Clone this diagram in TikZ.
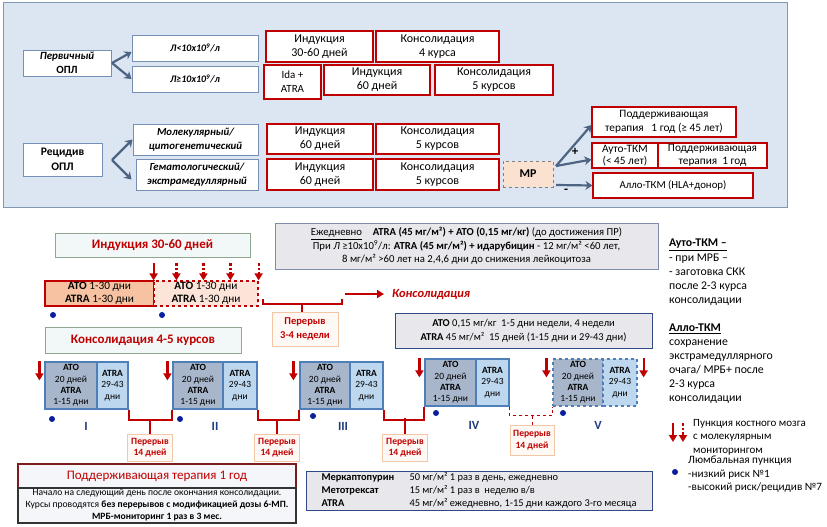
\documentclass[tikz,border=0pt]{standalone}
\usepackage{fontspec}
\setmainfont{Carlito}
\usetikzlibrary{arrows.meta}

\definecolor{panelbg}{HTML}{DCE6F2}
\definecolor{panelline}{HTML}{8497B0}
\definecolor{boxblue}{HTML}{7690B5}
\definecolor{boxred}{HTML}{C00000}
\definecolor{arrowgray}{HTML}{4D6483}
\definecolor{peach}{HTML}{F6C2A2}
\definecolor{peachlight}{HTML}{FCE5D8}
\definecolor{mrfill}{HTML}{FBE1CF}
\definecolor{hdrfill}{HTML}{F2F7F8}
\definecolor{hdrline}{HTML}{8FA68F}
\definecolor{grayfill}{HTML}{E8E8EC}
\definecolor{grayline}{HTML}{7E8CAA}
\definecolor{darkline}{HTML}{2E4A86}
\definecolor{atofill}{HTML}{A8B6CB}
\definecolor{atrafill}{HTML}{BDD7EE}
\definecolor{blkline}{HTML}{4F7FB8}
\definecolor{dotblue}{HTML}{0A1F9E}
\definecolor{romanblue}{HTML}{1F3C7C}
\definecolor{pausefill}{HTML}{FFF9F5}
\definecolor{pauseline}{HTML}{F3C6A5}
\definecolor{maintline}{HTML}{7B1B1B}
\definecolor{maintfill}{HTML}{F4F6F9}

\newcommand{\fsz}[2]{\fontsize{#1}{#2}\selectfont}

\begin{document}
\begin{tikzpicture}[x=1pt, y=-1pt,
  box/.style={inner sep=0pt, align=center},
  bluebox/.style={box, draw=boxblue, fill=white, line width=0.9pt},
  redbox/.style={box, draw=boxred, fill=white, line width=1.1pt, font=\fsz{12}{14}},
  rightbox/.style={redbox, font=\fsz{11.3}{13.5}},
  toparrow/.style={draw=arrowgray, line width=2.2pt, -{Stealth[length=7pt,width=9pt]}},
  hdrbox/.style={box, draw=hdrline, fill=hdrfill, line width=1pt, text=boxred, font=\bfseries\fsz{13}{15}},
  graybox/.style={box, draw=grayline, fill=grayfill, line width=1pt},
  darkbox/.style={graybox, draw=darkline},
  redarrow/.style={draw=boxred, line width=2.2pt, -{Triangle[length=7pt,width=8pt]}},
  punctarrow/.style={redarrow, dash pattern=on 2.5pt off 2pt},
  bracket/.style={draw=boxred, line width=2pt},
  lpdot/.style={circle, fill=dotblue, inner sep=0pt, minimum size=6pt},
  pausebox/.style={box, draw=pauseline, fill=pausefill, line width=1pt, text=boxred, font=\bfseries\fsz{9.6}{11.5}},
  atoblk/.style={box, draw=blkline, fill=atofill, line width=1.2pt, font=\fsz{9.5}{11.3}, minimum height=47pt},
  atrablk/.style={atoblk, fill=atrafill},
  roman/.style={text=romanblue, font=\bfseries\fsz{12.5}{14}},
  note/.style={inner sep=0pt, align=left, anchor=north west}]
\useasboundingbox (0,0) rectangle (827,527);
\draw[draw=panelline, fill=panelbg, line width=1pt] (3,3) rectangle (787,207);

\node[bluebox, minimum width=88pt, minimum height=26pt, font=\fsz{11}{14}] (prim) at (67,63) {\textbf{\textit{Первичный}}\\\textbf{ОПЛ}};
\node[bluebox, minimum width=126pt, minimum height=26pt, font=\fsz{10}{12}] (lowL) at (195,48) {\textbf{\textit{Л<10x10\textsuperscript{9}/л}}};
\node[bluebox, minimum width=126pt, minimum height=26pt, font=\fsz{10}{12}] (highL) at (195,79) {\textbf{\textit{Л≥10x10\textsuperscript{9}/л}}};
\node[redbox, minimum width=107pt, minimum height=31pt] (ind1) at (319.5,46.5) {Индукция\\30-60 дней};
\node[redbox, minimum width=123pt, minimum height=31pt] (cons1) at (437.5,46.5) {Консолидация\\4 курса};
\node[redbox, minimum width=57pt, minimum height=34pt, font=\fsz{11}{14}] (ida) at (292.5,82) {Ida +\\ATRA};
\node[redbox, minimum width=106pt, minimum height=30pt] (ind2) at (377,80) {Индукция\\60 дней};
\node[redbox, minimum width=118pt, minimum height=30pt] (cons2) at (494,80) {Консолидация\\5 курсов};
\coordinate (primsplit) at (112,63);
\draw[toparrow] (primsplit) -- ([yshift=-4pt]lowL.west);
\draw[toparrow] (primsplit) -- (highL.west);

\node[bluebox, minimum width=79pt, minimum height=33pt, font=\bfseries\fsz{11.5}{15}] (rel) at (62.5,159.5) {Рецидив\\ОПЛ};
\node[bluebox, minimum width=125pt, minimum height=31pt, font=\bfseries\itshape\fsz{10.8}{13.5}] (mol) at (195.5,139.5) {Молекулярный/\\цитогенетический};
\node[bluebox, minimum width=122pt, minimum height=31pt, font=\bfseries\itshape\fsz{10.8}{13.5}] (hem) at (197,174.5) {Гематологический/\\экстрамедуллярный};
\node[redbox, minimum width=106pt, minimum height=30pt] (ind3) at (320,139) {Индукция\\60 дней};
\node[redbox, minimum width=123pt, minimum height=30pt] (cons3) at (437.5,139) {Консолидация\\5 курсов};
\node[redbox, minimum width=106pt, minimum height=31pt] (ind4) at (320,174.5) {Индукция\\60 дней};
\node[redbox, minimum width=123pt, minimum height=31pt] (cons4) at (437.5,174.5) {Консолидация\\5 курсов};
\node[box, draw=gray, dashed, fill=mrfill, line width=1pt, minimum width=50pt, minimum height=26pt, font=\bfseries\fsz{12}{14}] (mr) at (528,174) {МР};
\coordinate (relsplit) at (112,160);
\draw[toparrow] (relsplit) -- (mol.west);
\draw[toparrow] (relsplit) -- ([yshift=-5pt,xshift=-4pt]hem.west);

\node[rightbox, minimum width=144pt, minimum height=30pt] (maint1) at (664,122) {Поддерживающая\\терапия~~ 1 год (≥ 45 лет)};
\node[rightbox, minimum width=66pt, minimum height=25pt, font=\fsz{11.3}{12.5}] (auto) at (625,155.5) {Ауто-ТКМ\\(< 45 лет)};
\node[rightbox, minimum width=109pt, minimum height=25pt, font=\fsz{11.3}{12.5}] (maint2) at (712.5,155.5) {Поддерживающая\\терапия~ 1 год};
\node[rightbox, minimum width=160pt, minimum height=25pt, font=\fsz{10.8}{12.5}] (allo) at (673,185.5) {Алло-ТКМ (HLA+донор)};
\coordinate (mrplus) at (556,166);
\coordinate (mrminus) at (556,185);
\draw[toparrow] (mrplus) -- ([yshift=-3pt]maint1.west);
\draw[toparrow] (mrplus) -- ([yshift=-4pt]auto.west);
\draw[toparrow] (mrminus) -- (allo.west);
\node[font=\bfseries\fsz{13}{14}] (plus) at (575,152) {+};
\node[font=\bfseries\fsz{13}{14}] (minus) at (566,191) {-};

\node[hdrbox, minimum width=195pt, minimum height=24pt] (indhdr) at (152.5,245) {Индукция 30-60 дней};
\node[box, draw=boxred, fill=peach, line width=1.2pt, minimum width=109pt, minimum height=25pt, font=\fsz{11.3}{13}] (atoA) at (99.5,293.5) {\textbf{ATO} 1-30 дни\\\textbf{ATRA} 1-30 дни};
\node[box, draw=boxred, dashed, fill=peachlight, line width=1.2pt, minimum width=104pt, minimum height=25pt, font=\fsz{11.3}{13}] (atoB) at (206,293.5) {\textbf{ATO} 1-30 дни\\\textbf{ATRA} 1-30 дни};
\draw[redarrow] ([xshift=-1pt,yshift=17pt]atoA.north east) -- ([xshift=-1pt]atoA.north east);
\draw[punctarrow] ([xshift=23pt,yshift=17pt]atoB.north west) -- ([xshift=23pt]atoB.north west);
\draw[punctarrow] ([xshift=50pt,yshift=17pt]atoB.north west) -- ([xshift=50pt]atoB.north west);
\draw[punctarrow] ([xshift=77pt,yshift=17pt]atoB.north west) -- ([xshift=77pt]atoB.north west);
\draw[punctarrow] ([yshift=17pt]atoB.north east) -- (atoB.north east);
\node[lpdot] (lp1) at (53,315) {};
\node[lpdot] (lp2) at (162,315) {};
\node[pausebox, minimum width=66pt, minimum height=34pt, font=\bfseries\fsz{10.5}{14}] (brk0) at (305,329) {Перерыв\\3-4 недели};
\coordinate (b0) at (302,304);
\draw[bracket] (263,299) -- (263,304) -- (342,304) -- (342,299);
\draw[bracket] (b0) -- (b0 |- brk0.north);
\node[anchor=west, inner sep=0pt, text=boxred, font=\bfseries\itshape\fsz{12.5}{14}] (conslbl) at (392,294) {Консолидация};
\coordinate (ca) at (345,294);
\draw[redarrow, line width=1.8pt] (ca) -- ([xshift=-8pt]conslbl.west);

\node[graybox, minimum width=383pt, minimum height=46pt, font=\fsz{10.7}{13.5}] (daily) at (466.5,246) {\underline{Ежедневно}\quad \textbf{ATRA (45 мг/м²) + ATO (0,15 мг/кг)} (\underline{до достижения ПР})\\При \textit{Л} ≥10x10\textsuperscript{9}/л: \textbf{ATRA (45 мг/м²) + идарубицин} - 12 мг/м² <60 лет,\\8 мг/м² >60 лет на 2,4,6 дни до снижения лейкоцитоза};

\node[hdrbox, minimum width=196pt, minimum height=26pt] (conshdr) at (143,340) {Консолидация 4-5 курсов};
\node[darkbox, minimum width=257pt, minimum height=35pt, font=\fsz{10.5}{14}] (conscheme) at (523.5,330.5) {\textbf{ATO} 0,15 мг/кг~ 1-5 дни недели, 4 недели\\\textbf{ATRA} 45 мг/м²~ 15 дней (1-15 дни и 29-43 дни)};

\node[atoblk, minimum width=52pt] (atoI) at (71,385.5) {\textbf{ATO}\\20 дней\\\textbf{ATRA}\\1-15 дни};
\node[atrablk, minimum width=31pt] (atraI) at (112.5,385.5) {\textbf{ATRA}\\29-43\\дни};
\node[atoblk, minimum width=50pt] (atoII) at (198,385.5) {\textbf{ATO}\\20 дней\\\textbf{ATRA}\\1-15 дни};
\node[atrablk, minimum width=34pt] (atraII) at (240,385.5) {\textbf{ATRA}\\29-43\\дни};
\node[atoblk, minimum width=50pt] (atoIII) at (325,385.5) {\textbf{ATO}\\20 дней\\\textbf{ATRA}\\1-15 дни};
\node[atrablk, minimum width=33pt] (atraIII) at (366.5,385.5) {\textbf{ATRA}\\29-43\\дни};
\node[atoblk, minimum width=51pt] (atoIV) at (450.5,382.5) {\textbf{ATO}\\20 дней\\\textbf{ATRA}\\1-15 дни};
\node[atrablk, minimum width=33pt] (atraIV) at (492.5,382.5) {\textbf{ATRA}\\29-43\\дни};
\node[atoblk, dashed, minimum width=50pt] (atoV) at (578,382.5) {\textbf{ATO}\\20 дней\\\textbf{ATRA}\\1-15 дни};
\node[atrablk, dashed, minimum width=34pt] (atraV) at (620,382.5) {\textbf{ATRA}\\29-43\\дни};
\draw[redarrow] ([xshift=-5pt]atoI.north west) -- ++(0,19);
\draw[redarrow] ([xshift=-5pt]atoII.north west) -- ++(0,19);
\draw[redarrow] ([xshift=-6pt]atoIII.north west) -- ++(0,19);
\draw[redarrow] ([xshift=-5pt]atoIV.north west) -- ++(0,19);
\draw[redarrow] ([xshift=-6pt]atoV.north west) -- ++(0,19);
\draw[redarrow] ([xshift=6pt]atraV.north east) -- ++(0,19);

\node[lpdot] (lpI) at (52,419) {};
\node[lpdot] (lpII) at (180,419) {};
\node[lpdot] (lpIII) at (313,416) {};
\node[lpdot] (lpIV) at (436,413) {};
\node[lpdot] (lpV) at (563,413) {};
\node[roman] (rI) at (86,426) {I};
\node[roman] (rII) at (215,426) {II};
\node[roman] (rIII) at (343,426) {III};
\node[roman] (rIV) at (474,425) {IV};
\node[roman] (rV) at (598,425) {V};

\node[pausebox, minimum width=45pt, minimum height=27pt] (brk1) at (150,447.5) {Перерыв\\14 дней};
\node[pausebox, minimum width=45pt, minimum height=27pt] (brk2) at (277,447.5) {Перерыв\\14 дней};
\node[pausebox, minimum width=45pt, minimum height=27pt] (brk3) at (405,447.5) {Перерыв\\14 дней};
\node[pausebox, minimum width=44pt, minimum height=30pt] (brk4) at (532,440) {Перерыв\\14 дней};
\draw[bracket] (atraI.south east) -- ++(0,10) -| (atoII.south west);
\draw[bracket] (brk1.north) -- ++(0,-15);
\draw[bracket] (atraII.south east) -- ++(0,10) -| (atoIII.south west);
\draw[bracket] (brk2.north) -- ++(0,-15);
\draw[bracket] (atraIII.south east) -- ++(0,10) -| (atoIV.south west);
\draw[bracket] (brk3.north) -- ++(0,-16);
\draw[bracket, line width=1pt, dashed] (atraIV.south east) -- ++(0,9) -| (atoV.south west);
\draw[bracket, line width=1pt, dashed] (brk4.north) -- ++(0,-10);

\node[note, font=\fsz{11.8}{14.2}] (autonote) at (669,239) {\underline{\textbf{Ауто-ТКМ –}}\\- при МРБ –\\- заготовка СКК\\после 2-3 курса\\консолидации};
\node[note, font=\fsz{11.8}{14}] (allonote) at (669,324) {\underline{\textbf{Алло-ТКМ}}\\сохранение\\экстрамедуллярного\\очага/ МРБ+ после\\2-3 курса\\консолидации};

\coordinate (lg1) at (673,423);
\coordinate (lg2) at (683,423);
\draw[redarrow] (lg1) -- ++(0,19);
\draw[punctarrow] (lg2) -- ++(0,19);
\node[note, font=\fsz{11}{13.5}] (legpunct) at (693,419) {Пункция костного мозга\\с молекулярным\\мониторингом};
\node[lpdot] (lgdot) at (675,472) {};
\node[note, font=\fsz{11.2}{13.5}] (leglp) at (688,456) {Люмбальная пункция\\-низкий риск №1\\-высокий риск/рецидив №7};

\node[box, draw=maintline, fill=maintfill, line width=1.2pt, minimum width=278pt, minimum height=24pt, text=boxred, font=\fsz{13}{15}] (mainthdr) at (157,476) {Поддерживающая терапия 1 год};
\node[box, draw=black!80, fill=maintfill, line width=1.2pt, minimum width=278pt, minimum height=35pt, font=\fsz{9.6}{12}] (maintbody) at (157,505.5) {Начало на следующий день после окончания консолидации.\\Курсы проводятся \textbf{без перерывов с модификацией дозы 6-МП.}\\\textbf{МРБ-мониторинг 1 раз в 3 мес.}};
\node[darkbox, minimum width=346pt, minimum height=38pt, font=\fsz{10.4}{13}] (drugs) at (479,491) {\begin{tabular}{@{}p{88pt}@{}l@{}}\textbf{Меркаптопурин} & 50 мг/м² 1 раз в день, ежедневно\\\textbf{Метотрексат} & 15 мг/м² 1 раз в~ неделю в/в\\\textbf{ATRA} & 45 мг/м² ежедневно, 1-15 дни каждого 3-го месяца\end{tabular}};
\end{tikzpicture}
\end{document}
